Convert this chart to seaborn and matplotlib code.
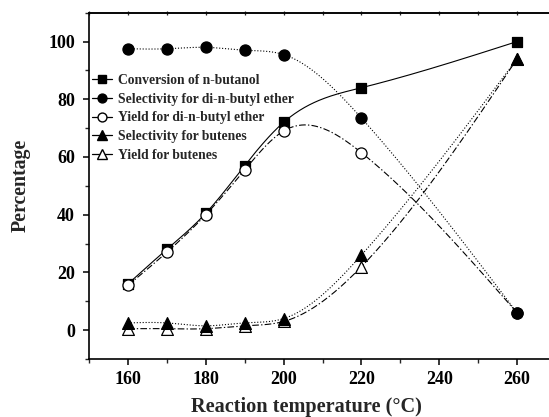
import numpy as np
import pandas as pd
import matplotlib
matplotlib.use("Agg")
import matplotlib.pyplot as plt
import seaborn as sns
from matplotlib.lines import Line2D
from matplotlib.ticker import MultipleLocator

# ---- data ----
temperature = [160, 170, 180, 190, 200, 220, 260]
conversion = [16, 28, 40.5, 57, 72, 84, 100]
sel_ether = [97.5, 97.5, 98, 97, 95.5, 73.5, 6]
yield_ether = [15.5, 27, 40, 55.5, 69, 61.5, 6]
sel_butenes = [2.5, 2.5, 1.5, 2.5, 4, 26, 94]
yield_butenes = [0.5, 0.5, 0.5, 1.5, 3, 22, 94]
series_labels = ["Conversion of n-butanol",
                 "Selectivity for di-n-butyl ether",
                 "Yield for di-n-butyl ether",
                 "Selectivity for butenes",
                 "Yield for butenes"]
x_ticks = [160, 180, 200, 220, 240, 260]
y_ticks = [0, 20, 40, 60, 80, 100]


def natural_spline(x, y, xs):
    x = np.asarray(x, float)
    y = np.asarray(y, float)
    n = len(x)
    h = np.diff(x)
    A = np.zeros((n, n))
    r = np.zeros(n)
    A[0, 0] = 1
    A[-1, -1] = 1
    for i in range(1, n - 1):
        A[i, i - 1] = h[i - 1]
        A[i, i] = 2 * (h[i - 1] + h[i])
        A[i, i + 1] = h[i]
        r[i] = 6 * ((y[i + 1] - y[i]) / h[i] - (y[i] - y[i - 1]) / h[i - 1])
    M = np.linalg.solve(A, r)
    idx = np.clip(np.searchsorted(x, xs) - 1, 0, n - 2)
    x0, x1 = x[idx], x[idx + 1]
    hh = x1 - x0
    t0 = x1 - xs
    t1 = xs - x0
    return (M[idx] * t0 ** 3 / (6 * hh) + M[idx + 1] * t1 ** 3 / (6 * hh)
            + (y[idx] / hh - M[idx] * hh / 6) * t0
            + (y[idx + 1] / hh - M[idx + 1] * hh / 6) * t1)


sns.set_style("ticks")
plt.rcParams["font.family"] = ["Liberation Serif", "DejaVu Serif"]
plt.rcParams["font.weight"] = "bold"
plt.rcParams["axes.labelweight"] = "bold"

fig = plt.figure(figsize=(5.49, 4.17), dpi=100)
ax = fig.add_axes([89 / 549, 1 - 359 / 417, (556 - 89) / 549, (359 - 12.7) / 417])

dashdot = (0, (6, 2, 1.2, 2))
series = [
    (conversion, "-", "s", "black", 7, 3),
    (sel_ether, ":", "o", "black", 8, 6),
    (yield_ether, dashdot, "o", "white", 8, 5),
    (sel_butenes, ":", "^", "black", 8.5, 8),
    (yield_butenes, dashdot, "^", "white", 8.5, 7),
]

xs = np.linspace(min(temperature), max(temperature), 400)
for vals, ls, mk, fc, ms, z in series:
    dense = pd.DataFrame({"T": xs, "v": natural_spline(temperature, vals, xs)})
    sns.lineplot(data=dense, x="T", y="v", ax=ax, color="black",
                 linewidth=0.8, linestyle=ls, zorder=2)
    pts = pd.DataFrame({"T": temperature, "v": vals})
    sns.scatterplot(data=pts, x="T", y="v", ax=ax, marker=mk, s=ms ** 2,
                    facecolor=fc, edgecolor="black", linewidth=0.9, zorder=z)

ax.set_xlim(150, 270)
ax.set_ylim(-10, 110)
ax.set_xticks(x_ticks)
ax.set_yticks(y_ticks)
ax.xaxis.set_minor_locator(MultipleLocator(10))
ax.yaxis.set_minor_locator(MultipleLocator(10))
ax.tick_params(which="major", direction="out", length=4.5, width=1.1,
               labelsize=13, pad=4, colors="black")
ax.tick_params(which="minor", direction="out", length=2.8, width=1.0)
ax.tick_params(axis="y", which="major", pad=5.5)
for lab in ax.get_xticklabels() + ax.get_yticklabels():
    lab.set_fontweight("bold")
for sp in ax.spines.values():
    sp.set_linewidth(1.2)
    sp.set_color("black")

top = ax.secondary_xaxis("top")
top.set_xticks(list(range(150, 271, 10)))
top.tick_params(direction="inout", length=3, width=0.9, labeltop=False)
top.spines["top"].set_linewidth(1.2)

ax.set_xlabel("Reaction temperature (\u00b0C)", fontsize=14.6,
              fontweight="bold")
ax.xaxis.set_label_coords((306 - 89) / (556 - 89), -(397 - 359) / 346.3)
ax.set_ylabel("Percentage", fontsize=14.3, fontweight="bold")
ax.yaxis.set_label_coords(-(89 - 31) / (556 - 89), 0.5)

handles = []
for (vals, ls, mk, fc, ms, z), lab in zip(series, series_labels):
    handles.append(Line2D([0], [0], color="black", lw=0.9, linestyle="-",
                          marker=mk, markersize=ms * 0.8,
                          markerfacecolor=fc, markeredgecolor="black"))
leg = fig.legend(handles, series_labels, loc="upper left",
                 bbox_to_anchor=(92 / 549, 1 - 74 / 417), frameon=False,
                 prop={"family": "Liberation Serif", "weight": "bold",
                       "size": 9.8},
                 handlelength=1.5, handletextpad=0.4, labelspacing=0.42,
                 borderpad=0, borderaxespad=0)

fig.savefig("out.png", dpi=100)
